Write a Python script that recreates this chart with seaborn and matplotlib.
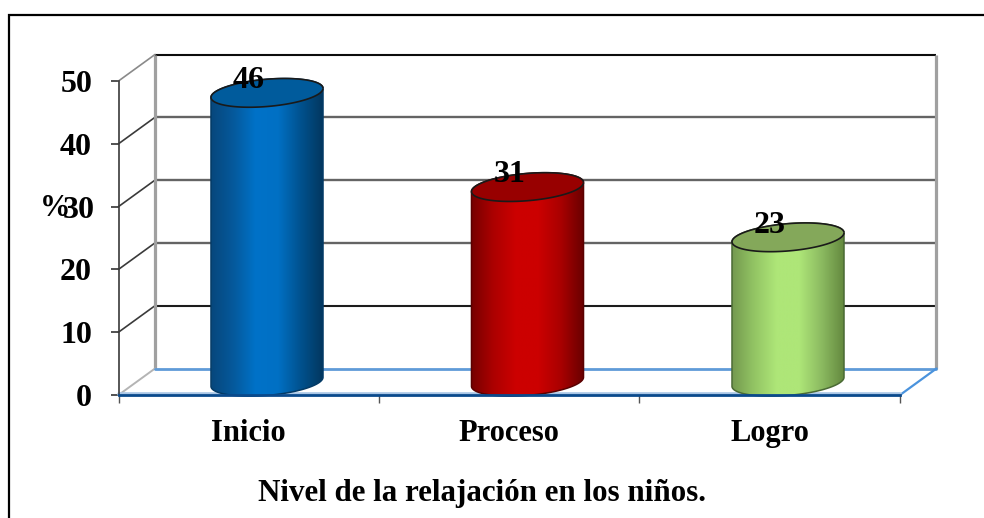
import numpy as np
import pandas as pd
import matplotlib
matplotlib.use("Agg")
import matplotlib.pyplot as plt
from matplotlib.colors import LinearSegmentedColormap
from matplotlib.lines import Line2D
from matplotlib.patches import PathPatch, Polygon
from matplotlib.path import Path
from matplotlib.transforms import ScaledTranslation
import seaborn as sns

categories = ["Inicio", "Proceso", "Logro"]
values = [46, 31, 23]
y_ticks = [0, 10, 20, 30, 40, 50]
x_title = "Nivel de la relajación en los niños."
y_title = "%"

body_stops = [
    ["#07477c", "#05599c", "#0072c8", "#0070c4", "#00528f", "#03375f"],
    ["#760000", "#ac0000", "#cc0000", "#cc0000", "#aa0000", "#6c0000"],
    ["#74994f", "#93c564", "#aee678", "#aee678", "#8cbb61", "#64893f"],
]
cap_colors = ["#005b9c", "#980000", "#84a85a"]
edge_colors = ["#033a66", "#5a0000", "#4a6a34"]

W, H = 984, 518
LEFT, RIGHT, BOTTOM, TOP = 118.5, 900.0, 395.0, 81.0

sns.set_theme(style="white")
plt.rcParams["font.family"] = ["Liberation Serif", "DejaVu Serif"]
plt.rcParams["font.weight"] = "bold"

fig = plt.figure(figsize=(W / 100, H / 100), dpi=100, facecolor="white")
ax = fig.add_axes([LEFT / W, 1 - BOTTOM / H, (RIGHT - LEFT) / W, (BOTTOM - TOP) / H])

frame = pd.DataFrame({"nivel": categories, "porcentaje": values})
sns.barplot(data=frame, x="nivel", y="porcentaje", hue="nivel", palette=cap_colors,
            legend=False, width=112 / 260.5, ax=ax, zorder=2, saturation=1)
ax.set_xlim(-0.5, 2.5)
ax.set_ylim(0, 50)

# pixels per data unit, and the depth of the box
PX = (RIGHT - LEFT) / 3
PY = (BOTTOM - TOP) / 50
DX = 36.5 / PX
DY = 26.5 / PY

# back wall, side wall and floor of the box
for tick in y_ticks[1:]:
    shade = {50: "#0c0c0c", 10: "#1c1c1c"}.get(tick, "#646464")
    width = 1.5 if tick in (50, 10) else 1.7
    ax.plot([-0.5 + DX, 2.5 + DX], [tick + DY, tick + DY], color=shade, lw=width,
            clip_on=False, zorder=1, solid_capstyle="butt")
    ax.plot([-0.5, -0.5 + DX], [tick, tick + DY], color="#8a8a8a" if tick == 50 else "#3a3a3a",
            lw=1.2, clip_on=False, zorder=1)
ax.plot([-0.5 + DX] * 2, [DY, 50 + DY], color="#a0a0a0", lw=2.3, clip_on=False, zorder=1,
        solid_capstyle="butt")
ax.plot([2.5 + DX] * 2, [DY, 50 + DY], color="#a0a0a0", lw=2.3, clip_on=False, zorder=1,
        solid_capstyle="butt")
ax.plot([-0.5, -0.5 + DX], [0, DY], color="#b4b4b4", lw=1.4, clip_on=False, zorder=1)
ax.plot([-0.5 + DX, 2.5 + DX], [DY, DY], color="#5f9bd8", lw=2.0, clip_on=False, zorder=1)
ax.plot([2.5, 2.5 + DX], [0, DY], color="#4a93dd", lw=1.6, clip_on=False, zorder=1)
ax.plot([-0.5, 2.5], [0.22, 0.22], color="#a9c6e6", lw=2.6, clip_on=False, zorder=1.5)


def ellipse_points(cx, cy, half_w=56.2, half_h=13.6, tilt=4.9):
    """Tilted ellipse centred on a data position; radii are given in pixels."""
    t = np.linspace(0, 2 * np.pi, 361)[:-1]
    rad = np.radians(tilt)
    ex = half_w * np.cos(t) * np.cos(rad) - half_h * np.sin(t) * np.sin(rad)
    ey = half_w * np.cos(t) * np.sin(rad) + half_h * np.sin(t) * np.cos(rad)
    return cx + ex / PX, cy + ey / PY


bars = list(ax.patches)
for bar, stops, cap, edge in zip(bars, body_stops, cap_colors, edge_colors):
    center = bar.get_x() + bar.get_width() / 2 + DX / 2
    base = DY / 2
    top = bar.get_height() + DY / 2
    bar.set_x(center - bar.get_width() / 2)
    bar.set_y(base)

    tx, ty = ellipse_points(center, top)
    bx, by = ellipse_points(center, base)
    right_i, left_i = int(np.argmax(tx)), int(np.argmin(tx))
    # upper arc of the cap, then lower arc of the base
    up = np.arange(right_i, left_i + 1) if left_i > right_i else np.r_[right_i:360, 0:left_i + 1]
    right_b, left_b = int(np.argmax(bx)), int(np.argmin(bx))
    low = np.arange(left_b, right_b + 1) if right_b > left_b else np.r_[left_b:360, 0:right_b + 1]
    outline = np.vstack([np.c_[tx[up], ty[up]], np.c_[bx[low], by[low]]])

    body = Polygon(outline, closed=True, transform=ax.transData, facecolor="none",
                   edgecolor=edge, lw=1.1, zorder=3.2, clip_on=False)
    ax.add_patch(body)
    bar.set_clip_path(Path(outline), ax.transData)

    cmap = LinearSegmentedColormap.from_list("cylinder", stops)
    half = bar.get_width() / 2
    image = ax.imshow(np.linspace(0, 1, 256)[None, :], cmap=cmap, aspect="auto",
                      extent=[center - half, center + half, 0, top + 4], zorder=3)
    image.set_clip_path(Path(outline), ax.transData)

    cap_patch = PathPatch(Path(np.c_[tx, ty], closed=False), facecolor=cap, edgecolor="#1a1a1a",
                          lw=1.2, transform=ax.transData, zorder=4, clip_on=False)
    ax.add_patch(cap_patch)

ax.set_xlim(-0.5, 2.5)
ax.set_ylim(0, 50)

# value labels sit over the front centre of each category
for i, value in enumerate(values):
    ax.text(i, value + DY - 0.15, str(value), ha="center", va="center", fontsize=23,
            fontweight="bold", color="black", zorder=6, clip_on=False)

# axes
sns.despine(ax=ax, top=True, right=True)
ax.spines["left"].set_color("#3a3a3a")
ax.spines["left"].set_linewidth(1.2)
ax.spines["bottom"].set_color("#0a4a8c")
ax.spines["bottom"].set_linewidth(2.0)
ax.spines["bottom"].set_zorder(5)
ax.set_yticks(y_ticks)
ax.set_yticklabels([str(t) for t in y_ticks], fontsize=23, fontweight="bold", color="black")
ax.tick_params(axis="y", length=6, width=1.1, color="#222222", left=True, pad=13)
ax.set_xticks(range(3))
ax.set_xticklabels(categories, fontsize=22, fontweight="bold", color="black")
ax.tick_params(axis="x", which="major", length=0, pad=17)
ax.set_xticks([-0.5, 0.5, 1.5, 2.5], minor=True)
ax.tick_params(axis="x", which="minor", length=6, width=1.0, color="#555555", bottom=True)
ax.set_xlabel(x_title, fontsize=22.3, fontweight="bold", color="black", va="center")
ax.xaxis.set_label_coords((482 - LEFT) / (RIGHT - LEFT), -(493 - BOTTOM) / (BOTTOM - TOP))
ax.set_ylabel(y_title, fontsize=22, fontweight="bold", color="black", rotation=0, va="center")
ax.yaxis.set_label_coords((55 - LEFT) / (RIGHT - LEFT), (BOTTOM - 209) / (BOTTOM - TOP))
ax.set_facecolor("none")

# the "30" sits a little to the right of the other tick labels, next to the % sign
shift = ScaledTranslation(3 / 100, 0, fig.dpi_scale_trans)
label_30 = ax.get_yticklabels()[y_ticks.index(30)]
label_30.set_transform(label_30.get_transform() + shift)

# outer frame runs off the right and bottom edges
fig.add_artist(Line2D([9 / W, 9 / W, 1], [0, 1 - 15 / H, 1 - 15 / H], color="black", lw=1.6,
                      solid_joinstyle="miter"))

fig.savefig("out.png", dpi=100, facecolor="white")
